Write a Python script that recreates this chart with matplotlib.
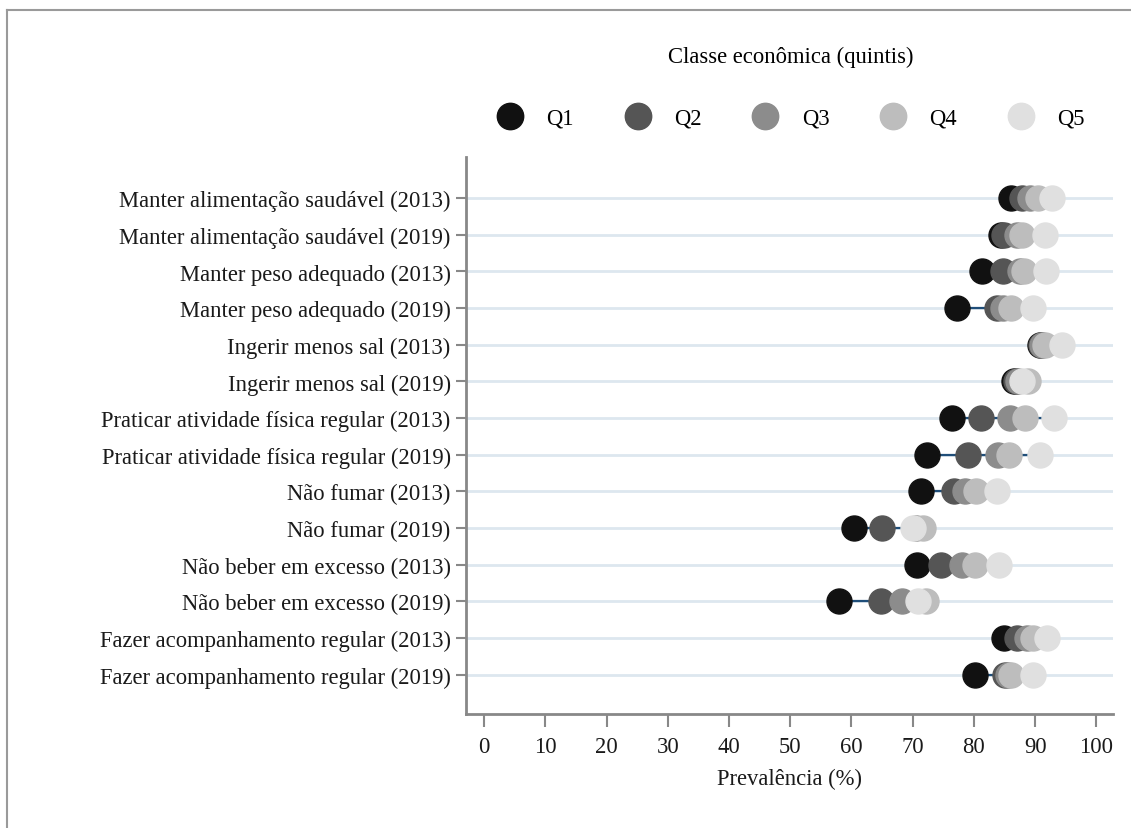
import matplotlib
matplotlib.use("Agg")
import matplotlib.pyplot as plt
from matplotlib.lines import Line2D

plt.rcParams['font.family'] = ['Liberation Serif', 'DejaVu Serif']

indicadores = [
    "Manter alimentação saudável (2013)",
    "Manter alimentação saudável (2019)",
    "Manter peso adequado (2013)",
    "Manter peso adequado (2019)",
    "Ingerir menos sal (2013)",
    "Ingerir menos sal (2019)",
    "Praticar atividade física regular (2013)",
    "Praticar atividade física regular (2019)",
    "Não fumar (2013)",
    "Não fumar (2019)",
    "Não beber em excesso (2013)",
    "Não beber em excesso (2019)",
    "Fazer acompanhamento regular (2013)",
    "Fazer acompanhamento regular (2019)",
]

# prevalência (%) por quintil de classe econômica
q1 = [86.1, 84.5, 81.3, 77.3, 90.8, 86.5, 76.5, 72.3, 71.3, 60.5, 70.7, 58.0, 84.9, 80.2]
q2 = [87.8, 84.9, 84.8, 83.8, 91.0, 86.8, 81.1, 79.1, 76.7, 65.0, 74.7, 64.9, 87.0, 85.1]
q3 = [89.1, 87.0, 87.5, 84.8, 91.2, 87.2, 85.9, 84.0, 78.5, 70.5, 78.0, 68.2, 88.6, 85.6]
q4 = [90.5, 87.8, 88.1, 86.1, 91.6, 88.8, 88.3, 85.8, 80.4, 71.7, 80.2, 72.2, 89.7, 86.1]
q5 = [92.8, 91.6, 91.8, 89.6, 94.4, 87.8, 93.0, 90.8, 83.8, 70.0, 84.1, 70.9, 92.0, 89.6]

quintis = ["Q1", "Q2", "Q3", "Q4", "Q5"]
cores = ["#111111", "#555555", "#8c8c8c", "#bdbdbd", "#e0e0e0"]
series = [q1, q2, q3, q4, q5]

fig = plt.figure(figsize=(11.31, 8.29), dpi=100)
ax = fig.add_axes([0.412, 0.1375, 0.572, 0.6719])

y = list(range(len(indicadores)))

for yi in y:
    ax.axhline(yi, color="#dde7ef", lw=2, zorder=1)

for yi in y:
    vals = [s[yi] for s in series]
    ax.plot([min(vals), max(vals)], [yi, yi], color="#1f4e79", lw=1.6, zorder=2)

for nome, cor, s in zip(quintis, cores, series):
    ax.plot(s, y, "o", ms=18, color=cor, mec=cor, zorder=3, label=nome)

ax.set_xlim(-2.95, 102.7)
ax.set_ylim(13 + 1.07, -1.12)
ax.set_xticks(range(0, 101, 10))
ax.set_yticks(y)
ax.set_yticklabels(indicadores)
ax.tick_params(axis="y", length=7, width=1.5, color="#888888", labelsize=16.3,
               labelcolor="#1a1a1a", pad=4)
ax.tick_params(axis="x", length=9, width=1.5, color="#888888", labelsize=16.3,
               labelcolor="#1a1a1a", pad=7)
ax.set_xlabel("Prevalência (%)", fontsize=16.3, color="#1a1a1a", labelpad=8)

for lado in ["top", "right"]:
    ax.spines[lado].set_visible(False)
for lado in ["left", "bottom"]:
    ax.spines[lado].set_color("#888888")
    ax.spines[lado].set_linewidth(2)

handles = [Line2D([], [], ls="", marker="o", ms=19, color=c, mec=c) for c in cores]
leg = fig.legend(handles, quintis, loc="center", bbox_to_anchor=(0.699, 0.8935),
                 ncol=5, frameon=False, fontsize=16.3, handletextpad=1.0,
                 columnspacing=2.22, handlelength=1.2,
                 title="Classe econômica (quintis)", title_fontsize=16.3)
leg._legend_box.sep = 29

# moldura externa
fig.add_artist(Line2D([0.0062, 1.0], [0.9867, 0.9867], transform=fig.transFigure,
                      color="#9a9a9a", lw=1.5))
fig.add_artist(Line2D([0.0062, 0.0062], [0.0, 0.9867], transform=fig.transFigure,
                      color="#9a9a9a", lw=1.5))

fig.savefig("out.png", dpi=100)
